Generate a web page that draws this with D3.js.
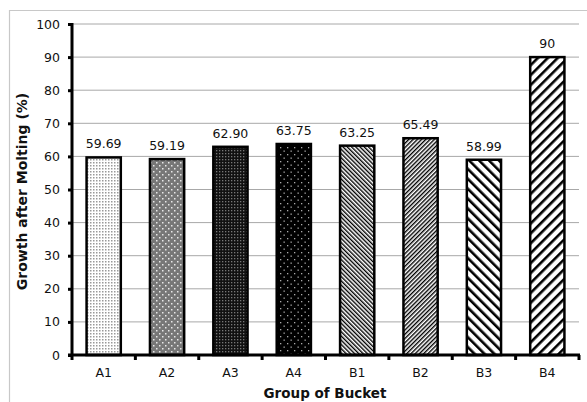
<!DOCTYPE html>
<html><head><meta charset="utf-8">
<script src="https://cdn.jsdelivr.net/npm/d3@7"></script>
<style>body{margin:0;background:#fff}svg{display:block}</style>
</head><body>
<script>
const categories = ["A1","A2","A3","A4","B1","B2","B3","B4"];
const values = [59.69, 59.19, 62.90, 63.75, 63.25, 65.49, 58.99, 90];
const labels = ["59.69","59.19","62.90","63.75","63.25","65.49","58.99","90"];
const yTicks = [0,10,20,30,40,50,60,70,80,90,100];
const patternIds = ["pA1","pA2","pA3","pA4","pB1","pB2","pB3","pB4"];

const W = 587, H = 402;
const svg = d3.select("body").append("svg").attr("width", W).attr("height", H);
const defs = svg.append("defs");

function dotPattern(id, size, bg, fg, r, checker) {
  const p = defs.append("pattern").attr("id", id).attr("patternUnits","userSpaceOnUse")
    .attr("width", size).attr("height", size);
  p.append("rect").attr("width", size).attr("height", size).attr("fill", bg);
  p.append("rect").attr("x",0).attr("y",0).attr("width",r).attr("height",r).attr("fill",fg);
  if (checker) p.append("rect").attr("x",size/2).attr("y",size/2).attr("width",r).attr("height",r).attr("fill",fg);
}
function linePattern(id, size, sw, dir) {
  const p = defs.append("pattern").attr("id", id).attr("patternUnits","userSpaceOnUse")
    .attr("width", size).attr("height", size)
    .attr("patternTransform", `rotate(${dir > 0 ? 45 : -45})`);
  p.append("rect").attr("width", size).attr("height", size).attr("fill", "#fff");
  p.append("rect").attr("x",0).attr("y",0).attr("width",sw).attr("height",size).attr("fill","#000");
}
dotPattern("pA1", 3, "#fff", "#999", 1.5, false);
dotPattern("pA2", 6, "#777", "#e8e8e8", 1.5, true);
dotPattern("pA3", 3, "#111", "#777", 1.3, false);
dotPattern("pA4", 7, "#000", "#aaa", 1.3, true);
linePattern("pB1", 3, 1.4, -1);
linePattern("pB2", 3, 1.4, 1);
linePattern("pB3", 7, 2.6, -1);
linePattern("pB4", 7, 2.6, 1);

// frame
svg.append("path").attr("d", "M9.5,402 L9.5,10.5 L587,10.5").attr("fill","none").attr("stroke","#c8c8c8").attr("stroke-width",1.2);

const x0 = 72, x1 = 579, yTop = 24, yBot = 355;
const x = d3.scaleBand().domain(categories).range([x0, x1]).paddingInner(0.46).paddingOuter(0.23);
const xb = d3.scaleBand().domain(categories).range([x0, x1]);
const y = d3.scaleLinear().domain([0,100]).range([yBot, yTop]);

const font = "'DejaVu Sans', Verdana, sans-serif";

// gridlines
svg.append("g").selectAll("line").data(yTicks.filter(d => d > 0)).join("line")
  .attr("x1", x0).attr("x2", x1).attr("y1", d => y(d)).attr("y2", d => y(d))
  .attr("stroke", "#a8a8a8").attr("stroke-width", 1);

// bars
svg.append("g").selectAll("rect").data(values).join("rect")
  .attr("x", (d,i) => x(categories[i])).attr("width", x.bandwidth())
  .attr("y", d => y(d)).attr("height", d => yBot - y(d))
  .attr("fill", (d,i) => `url(#${patternIds[i]})`)
  .attr("stroke", "#000").attr("stroke-width", 2.5);

// data labels
svg.append("g").selectAll("text").data(values).join("text")
  .attr("x", (d,i) => x(categories[i]) + x.bandwidth()/2)
  .attr("y", d => y(d) - 9)
  .attr("text-anchor", "middle").attr("font-family", font).attr("font-size", 12.5).attr("fill", "#111")
  .text((d,i) => labels[i]);

// y axis
const yAxis = d3.axisLeft(y).tickValues(yTicks).tickSize(4).tickPadding(8).tickFormat(d3.format("d"));
const gy = svg.append("g").attr("transform", `translate(${x0},0)`).call(yAxis);
gy.select(".domain").attr("stroke", "#000").attr("stroke-width", 3).attr("d", `M0,${yTop-1}V${yBot+1}`);
gy.selectAll(".tick line").attr("stroke", "#000").attr("stroke-width", 3);
gy.selectAll(".tick text").attr("font-family", font).attr("font-size", 12.5).attr("fill", "#111");

// x axis
const xAxis = d3.axisBottom(xb).tickSize(0).tickPadding(13);
const gx = svg.append("g").attr("transform", `translate(0,${yBot})`).call(xAxis);
gx.select(".domain").attr("stroke", "#000").attr("stroke-width", 3).attr("d", `M${x0-4},0H${x1+1}`);
gx.selectAll(".tick text").attr("font-family", font).attr("font-size", 12.5).attr("fill", "#111");
// boundary tick marks
const bounds = categories.map(c => xb(c)).concat([x1]);
svg.append("g").selectAll("line").data(bounds).join("line")
  .attr("x1", d => d).attr("x2", d => d).attr("y1", yBot).attr("y2", yBot + 5)
  .attr("stroke", "#000").attr("stroke-width", 3);

// axis titles
svg.append("text").attr("x", 325).attr("y", 398).attr("text-anchor","middle")
  .attr("font-family", font).attr("font-weight","bold").attr("font-size", 13.5).attr("fill","#111")
  .text("Group of Bucket");
svg.append("text").attr("transform", `translate(27,${(yTop+yBot)/2 + 2}) rotate(-90)`).attr("text-anchor","middle")
  .attr("font-family", font).attr("font-weight","bold").attr("font-size", 14).attr("fill","#111")
  .text("Growth after Molting (%)");
</script>
</body></html>
